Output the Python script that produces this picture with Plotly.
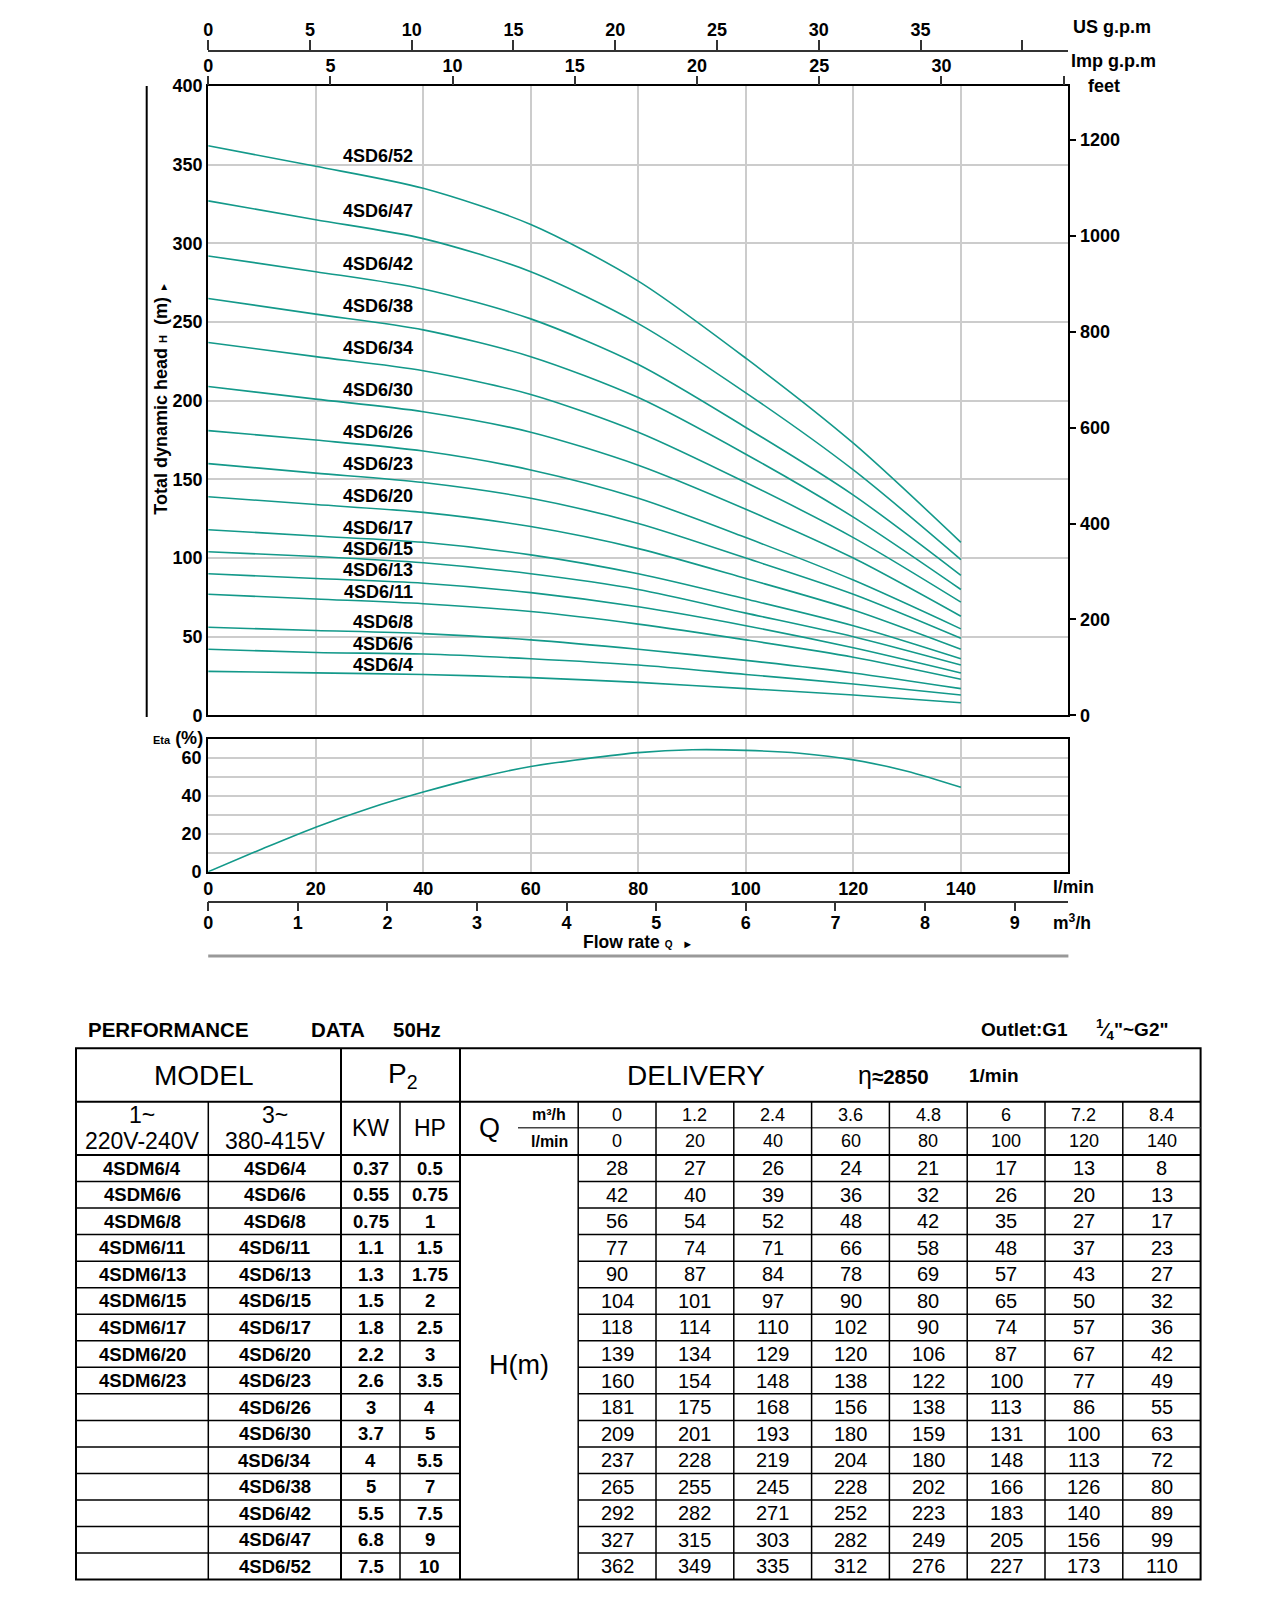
import plotly.graph_objects as go

# ---------------- data ----------------
q_lmin = [0, 20, 40, 60, 80, 100, 120, 140]
q_m3h_text = ["0", "1.2", "2.4", "3.6", "4.8", "6", "7.2", "8.4"]
q_lmin_text = ["0", "20", "40", "60", "80", "100", "120", "140"]

models_1ph = ["4SDM6/4", "4SDM6/6", "4SDM6/8", "4SDM6/11", "4SDM6/13", "4SDM6/15",
              "4SDM6/17", "4SDM6/20", "4SDM6/23", "", "", "", "", "", "", ""]
models_3ph = ["4SD6/4", "4SD6/6", "4SD6/8", "4SD6/11", "4SD6/13", "4SD6/15", "4SD6/17",
              "4SD6/20", "4SD6/23", "4SD6/26", "4SD6/30", "4SD6/34", "4SD6/38",
              "4SD6/42", "4SD6/47", "4SD6/52"]
power_kw = ["0.37", "0.55", "0.75", "1.1", "1.3", "1.5", "1.8", "2.2", "2.6", "3",
            "3.7", "4", "5", "5.5", "6.8", "7.5"]
power_hp = ["0.5", "0.75", "1", "1.5", "1.75", "2", "2.5", "3", "3.5", "4", "5",
            "5.5", "7", "7.5", "9", "10"]

head_4 = [28, 27, 26, 24, 21, 17, 13, 8]
head_6 = [42, 40, 39, 36, 32, 26, 20, 13]
head_8 = [56, 54, 52, 48, 42, 35, 27, 17]
head_11 = [77, 74, 71, 66, 58, 48, 37, 23]
head_13 = [90, 87, 84, 78, 69, 57, 43, 27]
head_15 = [104, 101, 97, 90, 80, 65, 50, 32]
head_17 = [118, 114, 110, 102, 90, 74, 57, 36]
head_20 = [139, 134, 129, 120, 106, 87, 67, 42]
head_23 = [160, 154, 148, 138, 122, 100, 77, 49]
head_26 = [181, 175, 168, 156, 138, 113, 86, 55]
head_30 = [209, 201, 193, 180, 159, 131, 100, 63]
head_34 = [237, 228, 219, 204, 180, 148, 113, 72]
head_38 = [265, 255, 245, 228, 202, 166, 126, 80]
head_42 = [292, 282, 271, 252, 223, 183, 140, 89]
head_47 = [327, 315, 303, 282, 249, 205, 156, 99]
head_52 = [362, 349, 335, 312, 276, 227, 173, 110]
heads = [head_4, head_6, head_8, head_11, head_13, head_15, head_17, head_20,
         head_23, head_26, head_30, head_34, head_38, head_42, head_47, head_52]

eta_q = [0, 10, 20, 30, 40, 50, 60, 70, 80, 90, 100, 110, 120, 130, 140]
eta_pct = [0, 12, 23.5, 33.5, 42, 49.5, 55.5, 59.5, 62.8, 64.3, 64, 62.5, 59, 53, 44.5]

head_ticks = [0, 50, 100, 150, 200, 250, 300, 350, 400]
feet_ticks = [0, 200, 400, 600, 800, 1000, 1200]
us_gpm_ticks = [0, 5, 10, 15, 20, 25, 30, 35]
us_gpm_minor = [40]
imp_gpm_ticks = [0, 5, 10, 15, 20, 25, 30]
imp_gpm_minor = [35]
lmin_ticks = [0, 20, 40, 60, 80, 100, 120, 140]
lmin_grid = [0, 20, 40, 60, 80, 100, 120, 140, 160]
eta_ticks = [0, 20, 40, 60]
m3h_ticks = [0, 1, 2, 3, 4, 5, 6, 7, 8, 9]

# unit conversions
L_PER_USGAL = 3.78541
L_PER_IMPGAL = 4.54609
M_PER_FT = 0.3048
LMIN_PER_M3H = 1000 / 60

# ---------------- layout helpers (page pixels -> paper) ----------------
W, H = 1257, 1580
OFF = 8


def px(x):
    return (x - OFF) / W


def py(y):
    return 1 - (y - OFF) / H


FONT = "Liberation Sans, Arial, Helvetica, sans-serif"


def fnt(size, bold=True, color="black"):
    return dict(family=FONT, size=size, color=color, weight="bold" if bold else "normal")


TEAL = "#13998a"
GRID = "#cccccc"
X0, X1 = 208.2, 1068.4
MAIN_T, MAIN_B = 86.0, 715.4
ETA_T, ETA_B = 739.0, 871.7
dom_x = [px(X0), px(X1)]

# curve label positions (head value, metres) and x anchor (l/min)
label_x = 38.5
label_y = [31.8, 45.4, 59.1, 78.6, 92.2, 105.8, 119.4, 139.5, 159.6, 180.4, 207,
           233.5, 260.1, 286.7, 320.4, 355.5]

fig = go.Figure()

for name, h in zip(models_3ph, heads):
    fig.add_trace(go.Scatter(x=q_lmin, y=h, mode="lines", name=name,
                             line=dict(color=TEAL, width=1.6, shape="spline", smoothing=0.8),
                             xaxis="x", yaxis="y", hoverinfo="skip", showlegend=False))

fig.add_trace(go.Scatter(x=eta_q, y=eta_pct, mode="lines", name="Eta",
                         line=dict(color=TEAL, width=1.6, shape="spline", smoothing=0.8),
                         xaxis="x4", yaxis="y3", hoverinfo="skip", showlegend=False))

# transparent copies in the secondary units so that those axes are drawn
ghost = dict(mode="lines", opacity=0, hoverinfo="skip", showlegend=False,
             line=dict(width=1))
fig.add_trace(go.Scatter(x=[q / L_PER_IMPGAL for q in q_lmin], y=head_52,
                         xaxis="x2", yaxis="y", **ghost))
fig.add_trace(go.Scatter(x=[q / L_PER_USGAL for q in q_lmin], y=head_52,
                         xaxis="x3", yaxis="y", **ghost))
fig.add_trace(go.Scatter(x=q_lmin, y=[h / M_PER_FT for h in head_52],
                         xaxis="x", yaxis="y2", **ghost))
fig.add_trace(go.Scatter(x=[q / LMIN_PER_M3H for q in eta_q], y=eta_pct,
                         xaxis="x5", yaxis="y3", **ghost))

frame = dict(showline=True, mirror=True, linecolor="black", linewidth=2, zeroline=False)
TF = 18

fig.update_layout(
    width=W, height=H,
    margin=dict(l=0, r=0, t=0, b=0, pad=0, autoexpand=False),
    paper_bgcolor="white", plot_bgcolor="white",
    hovermode=False,
    showlegend=False,
    xaxis=dict(domain=dom_x, range=[0, 160], anchor="y", tickvals=lmin_grid,
               showticklabels=False, ticks="", showgrid=True, gridcolor=GRID,
               gridwidth=1.5, **frame),
    yaxis=dict(domain=[py(MAIN_B), py(MAIN_T)], range=[0, 400], anchor="x",
               tickvals=head_ticks, ticks="", showgrid=True, gridcolor=GRID,
               gridwidth=1.5, tickfont=fnt(TF), ticklabelstandoff=0, **frame),
    yaxis2=dict(overlaying="y", side="right", anchor="x", range=[0, 400 / M_PER_FT],
                tickvals=feet_ticks, ticks="outside", ticklen=7, tickwidth=1.5,
                tickcolor="black", tickfont=fnt(TF), showgrid=False, zeroline=False,
                showline=False),
    xaxis2=dict(overlaying="x", side="top", anchor="y", range=[0, 160 / L_PER_IMPGAL],
                tickvals=imp_gpm_ticks, ticks="outside",
                ticklen=9, tickwidth=1.5, tickcolor="#333", tickfont=fnt(TF),
                ticklabelstandoff=-3,
                minor=dict(tickvals=imp_gpm_minor, ticks="outside", ticklen=9,
                           tickwidth=1.5, tickcolor="#333", showgrid=False),
                showgrid=False, zeroline=False, showline=False),
    xaxis3=dict(overlaying="x", side="top", anchor="free", position=py(51),
                range=[0, 160 / L_PER_USGAL], tickvals=us_gpm_ticks,
                ticks="outside", ticklen=10, tickwidth=1.5, tickcolor="#333",
                ticklabelstandoff=-3,
                minor=dict(tickvals=us_gpm_minor, ticks="outside", ticklen=10,
                           tickwidth=1.5, tickcolor="#333", showgrid=False),
                showline=True, linecolor="#333", linewidth=1.5, tickfont=fnt(TF),
                showgrid=False, zeroline=False),
    xaxis4=dict(domain=dom_x, range=[0, 160], anchor="y3", tickvals=lmin_ticks,
                ticks="", showgrid=True, gridcolor=GRID,
                gridwidth=1.5, tickfont=fnt(TF), ticklabelstandoff=0, **frame),
    yaxis3=dict(domain=[py(ETA_B), py(ETA_T)], range=[0, 70], anchor="x4",
                tickvals=eta_ticks, ticks="", showgrid=True,
                gridcolor=GRID, gridwidth=1.5, tickfont=fnt(TF), ticklabelstandoff=1,
                minor=dict(dtick=10, tick0=0, showgrid=True, gridcolor=GRID,
                           gridwidth=1.5, ticks=""),
                **frame),
    xaxis5=dict(overlaying="x4", side="bottom", anchor="free", position=py(901.7),
                range=[0, 160 / LMIN_PER_M3H], tickvals=m3h_ticks, ticks="outside",
                ticklen=9, tickwidth=1.5, tickcolor="#333", showline=True,
                linecolor="#333", linewidth=1.5, tickfont=fnt(TF), showgrid=False,
                ticklabelstandoff=-4, zeroline=False),
)

ann = []
shapes = []


def text(x, y, t, size, bold=True, xanchor="center", **kw):
    if t == "":
        return
    ann.append(dict(x=px(x), y=py(y), xref="paper", yref="paper", text=t,
                    showarrow=False, xanchor=xanchor, yanchor="middle",
                    font=fnt(size, bold), **kw))


def line(x0, y0, x1, y1, width=1.5, color="black"):
    shapes.append(dict(type="line", xref="paper", yref="paper",
                       x0=px(x0), y0=py(y0), x1=px(x1), y1=py(y1),
                       line=dict(color=color, width=width)))


# curve labels
for name, ly in zip(models_3ph, label_y):
    ann.append(dict(x=label_x, y=ly, xref="x", yref="y", text=name, showarrow=False,
                    xanchor="right", yanchor="middle", font=fnt(18)))

# chart texts
text(1071, 26.7, "US g.p.m", 18, xanchor="left")
text(1069, 61, "Imp g.p.m", 18, xanchor="left")
text(1104, 86, "feet", 18)
text(160.7, 398, "Total dynamic head <span style='font-size:11px'>H</span>  (m) "
     "<span style='font-size:10px'>►</span>", 18, textangle=-90)
text(205, 738, "<span style='font-size:11px'>Eta</span> (%)", 18, xanchor="right")
text(1051, 887, "l/min", 17.5, xanchor="left")
text(1051, 922, "m<sup>3</sup>/h", 17.5, xanchor="left")
text(581, 942, "Flow rate <span style='font-size:10px'>Q</span>  "
     "<span style='font-size:11px'>►</span>", 17.5, xanchor="left")

line(146.7, 86, 146.7, 717, width=2)
line(X0, 956, X1, 956, width=3, color="#999999")

# ---------------- table ----------------
TL, TR, TT, TB = 76, 1200.6, 1048.3, 1579.6
H1, QMID, DT = 1101.7, 1127.7, 1155.0
ROW_H = (TB - DT) / 16
C1, C2, C3, C4, QS, D0 = 208.3, 341.0, 400.0, 460.0, 518.0, 578.2
DW = (TR - D0) / 8

text(86, 1029, "PERFORMANCE", 20.5, xanchor="left")
text(309, 1029, "DATA", 20.5, xanchor="left")
text(391, 1029, "50Hz", 20.5, xanchor="left")
text(979, 1029, "Outlet:G1", 19, xanchor="left")
text(1094, 1029, "<sup>1</sup>⁄<sub>4</sub>\"~G2\"", 19, xanchor="left")

text(204, 1075, "MODEL", 28, bold=False)
text(403, 1075, "P<sub>2</sub>", 28, bold=False)
text(695.5, 1075, "DELIVERY", 28, bold=False)
text(856, 1075, "<span style='font-size:25px'>η</span><b>≈2850</b>", 20.5, bold=False,
     xanchor="left")
text(967, 1075, "1/min", 19, xanchor="left")

text((TL + C1) / 2, 1114.5, "1~", 23, bold=False)
text((TL + C1) / 2, 1140.8, "220V-240V", 23, bold=False)
text((C1 + C2) / 2, 1114.5, "3~", 23, bold=False)
text((C1 + C2) / 2, 1140.8, "380-415V", 23, bold=False)
text((C2 + C3) / 2, (H1 + DT) / 2, "KW", 23, bold=False)
text((C3 + C4) / 2, (H1 + DT) / 2, "HP", 23, bold=False)
text(489.7, (H1 + DT) / 2, "Q", 27, bold=False)
text((QS + D0) / 2 + 1, (H1 + QMID) / 2, "m³/h", 16)
text((QS + D0) / 2 + 1, (QMID + DT) / 2, "l/min", 16)
text((C4 + D0) / 2, (DT + TB) / 2 - 2, "H(m)", 27, bold=False)

for j in range(8):
    cx = D0 + DW * (j + 0.5)
    text(cx, (H1 + QMID) / 2, q_m3h_text[j], 18, bold=False)
    text(cx, (QMID + DT) / 2, q_lmin_text[j], 18, bold=False)

for i in range(16):
    cy = DT + ROW_H * (i + 0.5)
    text((TL + C1) / 2, cy, models_1ph[i], 18.5)
    text((C1 + C2) / 2, cy, models_3ph[i], 18.5)
    text((C2 + C3) / 2, cy, power_kw[i], 18.5)
    text((C3 + C4) / 2, cy, power_hp[i], 18.5)
    for j in range(8):
        text(D0 + DW * (j + 0.5), cy, str(heads[i][j]), 20, bold=False)

# table grid lines
shapes.append(dict(type="rect", xref="paper", yref="paper", x0=px(TL), x1=px(TR),
                   y0=py(TB), y1=py(TT), line=dict(color="black", width=2)))
line(TL, H1, TR, H1, width=2)
line(QS, QMID, TR, QMID, width=1.5, color="#444")
line(TL, DT, TR, DT, width=2)
for k in range(1, 16):
    yk = DT + ROW_H * k
    line(TL, yk, C4, yk)
    line(D0, yk, TR, yk)
line(C2, TT, C2, TB, width=2)
line(C4, TT, C4, TB, width=2)
for xv in [C1, C3, D0]:
    line(xv, H1, xv, TB)
for k in range(1, 8):
    xv = D0 + DW * k
    line(xv, H1, xv, TB)

fig.update_layout(annotations=ann, shapes=shapes)
fig.write_html("out.html")
